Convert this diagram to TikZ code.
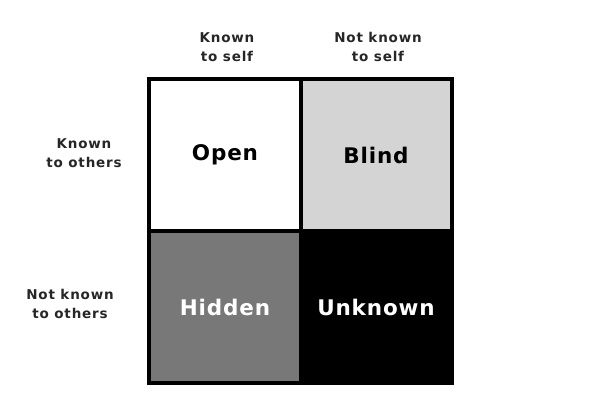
\documentclass[tikz,border=0pt]{standalone}
\usepackage{fontspec}
\setmainfont{DejaVu Sans}
\usetikzlibrary{positioning}
\begin{document}
\begin{tikzpicture}[x=1pt,y=-1pt,
  cell/.style={minimum width=151, minimum height=152, inner sep=0, font=\bfseries\fontsize{21.5}{23}\selectfont\addfontfeatures{LetterSpace=4}},
  head/.style={align=center, text=black!85, font=\bfseries\fontsize{13.5}{19}\selectfont\addfontfeatures{LetterSpace=6}, inner sep=0}]
\useasboundingbox (0,0) rectangle (602,415);
\node[cell, fill=white] (open) at (225,155) {Open};
\node[cell, fill=black!17] (blind) at (376,155) {Blind};
\node[cell, fill=black!53, text=white] (hidden) at (225,307) {Hidden};
\node[cell, fill=black, text=white] (unknown) at (376,307) {Unknown};
\draw[line width=4] (open.north west) rectangle (unknown.south east);
\draw[line width=4] (open.north east) -- (hidden.south east);
\draw[line width=4] (open.south west) -- (blind.south east);
\node[head] (kself) at (227,47) {Known\\to self};
\node[head] (nkself) at (378,47) {Not known\\to self};
\node[head] (kothers) at (84,153) {Known\\to others};
\node[head] (nkothers) at (70,304) {Not known\\to others};
\end{tikzpicture}
\end{document}
